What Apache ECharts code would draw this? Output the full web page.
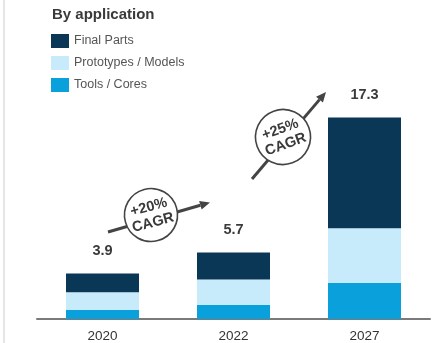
<!DOCTYPE html>
<html>
<head>
<meta charset="utf-8">
<script src="https://cdn.jsdelivr.net/npm/echarts@6/dist/echarts.min.js"></script>
<style>
  html, body { margin: 0; padding: 0; background: #fff; }
  #chart { width: 433px; height: 343px; }
</style>
</head>
<body>
<div id="chart"></div>
<script>
    // values
    const years = ['2020', '2022', '2027']
    const toolsCores = [0.8, 1.2, 3.1]
    const prototypes = [1.5, 2.2, 4.7]
    const finalParts = [1.6, 2.3, 9.5]
    const totals = ['3.9', '5.7', '17.3']
    const legendNames = ['Final Parts', 'Prototypes / Models', 'Tools / Cores']

    const font = 'Liberation Sans, Arial, sans-serif'
    const dark = '#0b3757'
    const light = '#c7ebfb'
    const blue = '#0aa0dc'

    // circle with rotated CAGR text
    function badge (cx, cy, r, deg, txt) {
        return {
            type: 'group', x: cx, y: cy, rotation: deg * Math.PI / 180,
            children: [
                {type: 'circle', shape: {cx: 0, cy: 0, r: r},
                    style: {fill: '#fff', stroke: '#444', lineWidth: 1.6}},
                {type: 'text', x: 0, y: 0,
                    style: {text: txt, x: 0, y: 0, align: 'center', verticalAlign: 'middle',
                        font: 'bold 14.5px ' + font, fill: '#3a3a3a', lineHeight: 16}}
            ]
        }
    }

    function arrow (x1, y1, x2, y2) {
        let dx = x2 - x1, dy = y2 - y1
        let len = Math.sqrt(dx * dx + dy * dy)
        let ux = dx / len, uy = dy / len
        let bx = x2 - ux * 10, by = y2 - uy * 10
        let px = -uy * 4.5, py = ux * 4.5
        return [
            {type: 'line', shape: {x1: x1, y1: y1, x2: bx, y2: by},
                style: {stroke: '#444', lineWidth: 3}},
            {type: 'polygon', shape: {points: [[x2, y2], [bx + px, by + py], [bx - px, by - py]]},
                style: {fill: '#444'}}
        ]
    }

    const chart = echarts.init(document.getElementById('chart'))
    chart.setOption({
        animation: false,
        title: {
            text: 'By application', left: 52, top: 7, padding: 0,
            textStyle: {fontFamily: font, fontSize: 15, fontWeight: 'bold', color: '#3a3a3a'}
        },
        legend: {
            data: legendNames, orient: 'vertical', left: 51, top: 34, padding: 0,
            icon: 'rect', itemWidth: 18, itemHeight: 14, itemGap: 8,
            textStyle: {fontFamily: font, fontSize: 12.5, color: '#555'}
        },
        grid: {left: 37, right: 3, top: 86, bottom: 23},
        xAxis: {
            type: 'category', data: years,
            axisLine: {lineStyle: {color: '#7a7a7a', width: 2}},
            axisTick: {show: false},
            axisLabel: {fontFamily: font, fontSize: 13.5, color: '#333', margin: 10}
        },
        yAxis: {type: 'value', min: 0, max: 20, show: false},
        series: [
            {name: 'Tools / Cores', type: 'bar', stack: 'a', barWidth: 73,
                itemStyle: {color: blue}, data: toolsCores},
            {name: 'Prototypes / Models', type: 'bar', stack: 'a',
                itemStyle: {color: light}, data: prototypes},
            {name: 'Final Parts', type: 'bar', stack: 'a',
                itemStyle: {color: dark}, data: finalParts,
                label: {show: true, position: 'top', distance: 15,
                    fontFamily: font, fontSize: 14.5, fontWeight: 'bold', color: '#3a3a3a',
                    formatter: p => totals[p.dataIndex]}}
        ],
        graphic: [
            {type: 'line', shape: {x1: 4, y1: 0, x2: 4, y2: 343},
                style: {stroke: '#e6e6e6', lineWidth: 2}},
            ...arrow(108, 232, 210, 202.5),
            badge(151, 215, 26.5, 15, '+20%\nCAGR'),
            ...arrow(252, 179, 326, 92),
            badge(283, 137, 27.5, 20, '+25%\nCAGR')
        ]
    })
</script>
</body>
</html>
